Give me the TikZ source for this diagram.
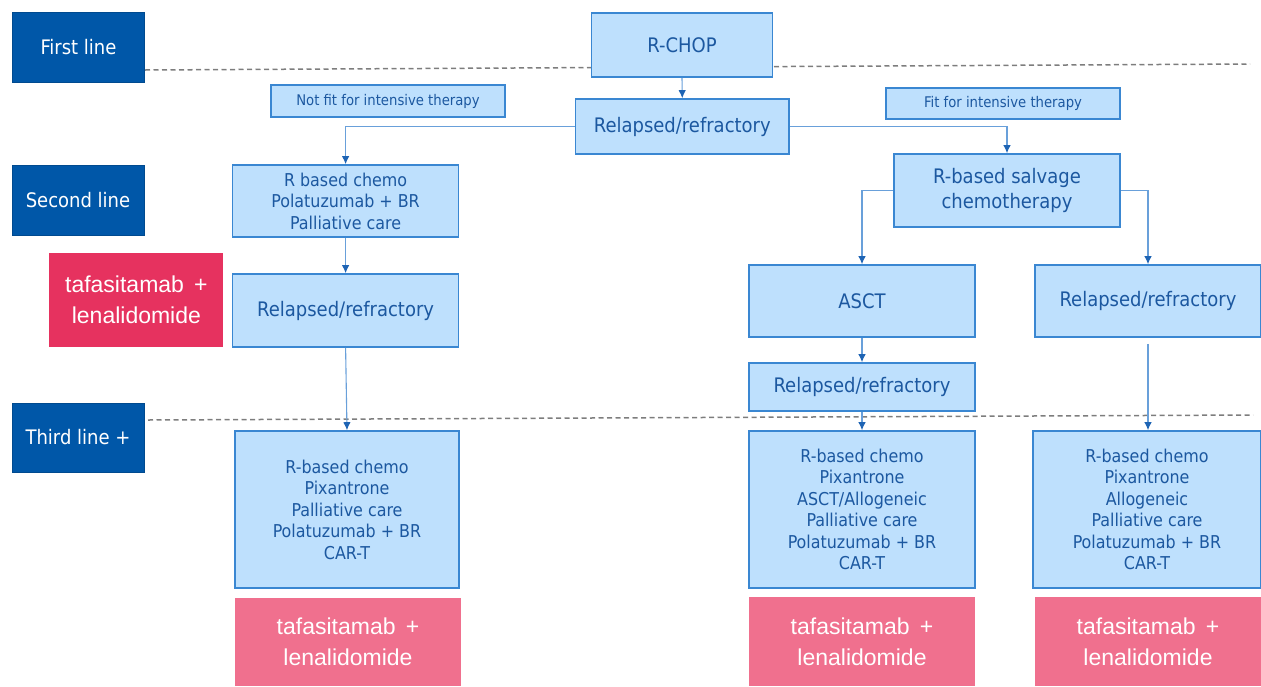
\documentclass[tikz,border=0pt]{standalone}
\usepackage{fontspec}
\setmainfont{DejaVu Sans Condensed}
\newfontfamily\pinkfont{Liberation Sans}
\usetikzlibrary{arrows.meta}
\definecolor{darkb}{RGB}{0,87,168}
\definecolor{lightb}{RGB}{190,224,253}
\definecolor{borderb}{RGB}{58,135,210}
\definecolor{textb}{RGB}{28,88,160}
\definecolor{redp}{RGB}{230,50,95}
\definecolor{pinkp}{RGB}{240,112,142}
\definecolor{connb}{RGB}{105,160,218}
\definecolor{tipb}{RGB}{30,100,180}
\definecolor{dashg}{RGB}{125,125,125}
\begin{document}
\begin{tikzpicture}[x=1pt,y=-1pt,
  box/.style={draw=borderb, fill=lightb, line width=1.6pt, text=textb, inner sep=0pt, align=center, font=\fontsize{20}{25}\selectfont},
  multi/.style={box, font=\fontsize{17.7}{21.5}\selectfont},
  small/.style={box, font=\fontsize{14.7}{17}\selectfont},
  lbl/.style={fill=darkb, draw=darkb!85!black, line width=1pt, text=white, inner sep=0pt, minimum width=132, font=\fontsize{20}{24}\selectfont},
  tafa/.style={fill=redp, text=white, inner sep=0pt, align=center, font=\pinkfont\fontsize{23}{31}\selectfont},
  tafb/.style={tafa, fill=pinkp},
  conn/.style={draw=connb, line width=1.1pt, -{Latex[length=8pt,width=7.5pt,color=tipb]}},
  dashsep/.style={draw=dashg, line width=1.5pt, dash pattern=on 5pt off 3.5pt}
]
\useasboundingbox (0,0) rectangle (1261,686);

% dashed separators
\draw[dashsep] (145,70) -- (1250,64);
\draw[dashsep] (148,420) -- (1253,415);

% line labels
\node[lbl, minimum height=70] (first) at (78.5,47.3) {First line};
\node[lbl, minimum height=70] (second) at (78,200) {Second line};
\node[lbl, minimum height=69] (third) at (78,437.5) {Third line +};
\node[tafa, minimum width=174, minimum height=94] (tafaL) at (136.4,300) {tafasitamab \,+\\lenalidomide};

% flow boxes
\node[box, minimum width=181, minimum height=64] (rchop) at (682,45) {R-CHOP};
\node[small, minimum width=234, minimum height=32] (notfit) at (388,101) {Not fit for intensive therapy};
\node[box, minimum width=213.5, minimum height=55] (rr1) at (682.3,126.5) {Relapsed/refractory};
\node[small, minimum width=234, minimum height=31] (fit) at (1003,103.5) {Fit for intensive therapy};
\node[multi, minimum width=226, minimum height=72] (rbc) at (345.6,201) {R based chemo\\Polatuzumab + BR\\Palliative care};
\node[box, minimum width=226, minimum height=73] (salv) at (1007,190.5) {R-based salvage\\chemotherapy};
\node[box, minimum width=226, minimum height=72] (asct) at (862,301) {ASCT};
\node[box, minimum width=226, minimum height=72] (rr4) at (1148,301) {Relapsed/refractory};
\node[box, minimum width=226, minimum height=73] (rr2) at (345.6,310.5) {Relapsed/refractory};
\node[box, minimum width=226, minimum height=48] (rr3) at (862,387) {Relapsed/refractory};

\node[multi, minimum width=224, minimum height=157] (t1) at (347,509.5) {R-based chemo\\Pixantrone\\Palliative care\\Polatuzumab + BR\\CAR-T};
\node[multi, minimum width=226, minimum height=157] (t2) at (862,509.5) {R-based chemo\\Pixantrone\\ASCT/Allogeneic\\Palliative care\\Polatuzumab + BR\\CAR-T};
\node[multi, minimum width=228, minimum height=157] (t3) at (1147,509.5) {R-based chemo\\Pixantrone\\Allogeneic\\Palliative care\\Polatuzumab + BR\\CAR-T};

\node[tafb, minimum width=226, minimum height=88] (p1) at (348,642) {tafasitamab \,+\\lenalidomide};
\node[tafb, minimum width=226, minimum height=89] (p2) at (862,641.5) {tafasitamab \,+\\lenalidomide};
\node[tafb, minimum width=226, minimum height=89] (p3) at (1148,641.5) {tafasitamab \,+\\lenalidomide};

% connectors
\draw[conn] (rchop.south) -- (rr1.north);
\draw[conn] (rr1.west) -| (rbc.north);
\draw[conn] (rr1.east) -| (salv.north);
\draw[conn] (salv.west) -| (asct.north);
\draw[conn] (salv.east) -| (rr4.north);
\draw[conn] (rbc.south) -- (rr2.north);
\draw[conn] (rr2.south) -- (t1.north);
\draw[conn] (asct.south) -- (rr3.north);
\draw[conn] (rr3.south) -- (t2.north);
\draw[conn, shorten <=6pt] (rr4.south) -- (rr4.south |- t3.north);
\end{tikzpicture}
\end{document}
